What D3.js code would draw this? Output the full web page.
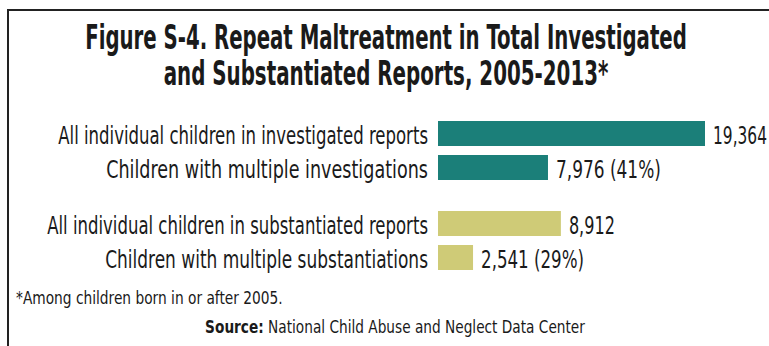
<!DOCTYPE html>
<html>
<head>
<meta charset="utf-8">
<script src="https://cdn.jsdelivr.net/npm/d3@7"></script>
<style>
  html, body { margin: 0; padding: 0; background: #fff; }
  svg { display: block; }
  text { font-family: "Liberation Sans Narrow", "DejaVu Sans Condensed", "Roboto Condensed", sans-serif; font-stretch: condensed; fill: #1a1a1a; }
</style>
</head>
<body>
<svg id="chart" width="769" height="346"></svg>
<script>
// ---- data ----
const titleLines = ["Figure S-4. Repeat Maltreatment in Total Investigated", "and Substantiated Reports, 2005-2013*"];
const categories = [
  "All individual children in investigated reports",
  "Children with multiple investigations",
  "All individual children in substantiated reports",
  "Children with multiple substantiations"
];
const groupOf = ["Investigated", "Investigated", "Substantiated", "Substantiated"];
const groupNames = ["Investigated", "Substantiated"];
const values = [19364, 7976, 8912, 2541];
const valueLabels = ["19,364", "7,976 (41%)", "8,912", "2,541 (29%)"];
const groupColors = ["#1b7f79", "#cfcb77"];
const footnote = "*Among children born in or after 2005.";
const sourceBold = "Source:";
const sourceRest = " National Child Abuse and Neglect Data Center";

// ---- layout ----
const svg = d3.select("#chart");
const W = 769, H = 346;

// horizontally squeeze a text to a target width (condensed look), keeping its anchor point
function fit(sel, widthFn) {
  sel.each(function (d, i) {
    const t = d3.select(this);
    const x0 = +t.attr("x"), y0 = +t.attr("y");
    const w = this.getComputedTextLength();
    const target = typeof widthFn === "function" ? widthFn(d, i) : widthFn;
    const sx = w > 0 ? target / w : 1;
    t.attr("x", 0).attr("y", 0)
     .attr("transform", `translate(${x0},${y0}) scale(${sx},1)`);
  });
}

// frame (top and left rule)
svg.append("path")
  .attr("d", `M8,${H} L8,10 L${W},10`)
  .attr("fill", "none").attr("stroke", "#222").attr("stroke-width", 2);

// title
const titleW = [602, 445];
svg.selectAll("text.title").data(titleLines).join("text")
  .attr("class", "title")
  .attr("x", 386)
  .attr("y", (d, i) => 49 + i * 36)
  .attr("text-anchor", "middle")
  .attr("font-size", 33)
  .attr("font-weight", "bold")
  .text(d => d)
  .call(fit, (d, i) => titleW[i]);

// scales
const x = d3.scaleLinear().domain([0, d3.max(values)]).range([438, 705]);
const yGroup = d3.scaleBand().domain(groupNames).range([121, 270]).paddingInner(31 / 90);
const yInner = d3.scaleBand().domain([0, 1]).range([0, yGroup.bandwidth()]).paddingInner(9 / 34);
const color = d3.scaleOrdinal().domain(groupNames).range(groupColors);

const rows = categories.map((c, i) => ({
  cat: c, value: values[i], label: valueLabels[i], group: groupOf[i],
  idx: groupOf.slice(0, i).filter(g => g === groupOf[i]).length
}));
const yPos = d => yGroup(d.group) + yInner(d.idx);

// bars
svg.selectAll("rect.bar").data(rows).join("rect")
  .attr("class", "bar")
  .attr("x", x(0))
  .attr("y", yPos)
  .attr("width", d => x(d.value) - x(0))
  .attr("height", yInner.bandwidth())
  .attr("fill", d => color(d.group));

// category labels
const catW = [370, 322, 381, 323];
svg.selectAll("text.cat").data(rows).join("text")
  .attr("class", "cat")
  .attr("x", x(0) - 10)
  .attr("y", d => yPos(d) + yInner.bandwidth() - 2)
  .attr("text-anchor", "end")
  .attr("font-size", 24)
  .text(d => d.cat)
  .call(fit, (d, i) => catW[i]);

// value labels
const valW = [54, 105, 46, 103];
svg.selectAll("text.val").data(rows).join("text")
  .attr("class", "val")
  .attr("x", d => x(d.value) + 8)
  .attr("y", d => yPos(d) + yInner.bandwidth() - 2)
  .attr("font-size", 24)
  .text(d => d.label)
  .call(fit, (d, i) => valW[i]);

// footnote
svg.append("text")
  .attr("x", 16).attr("y", 304)
  .attr("font-size", 18)
  .text(footnote)
  .call(fit, 267);

// source
const src = svg.append("text")
  .attr("x", 395).attr("y", 333)
  .attr("text-anchor", "middle")
  .attr("font-size", 18);
src.append("tspan").attr("font-weight", "bold").text(sourceBold);
src.append("tspan").text(sourceRest);
src.call(fit, 380);
</script>
</body>
</html>
